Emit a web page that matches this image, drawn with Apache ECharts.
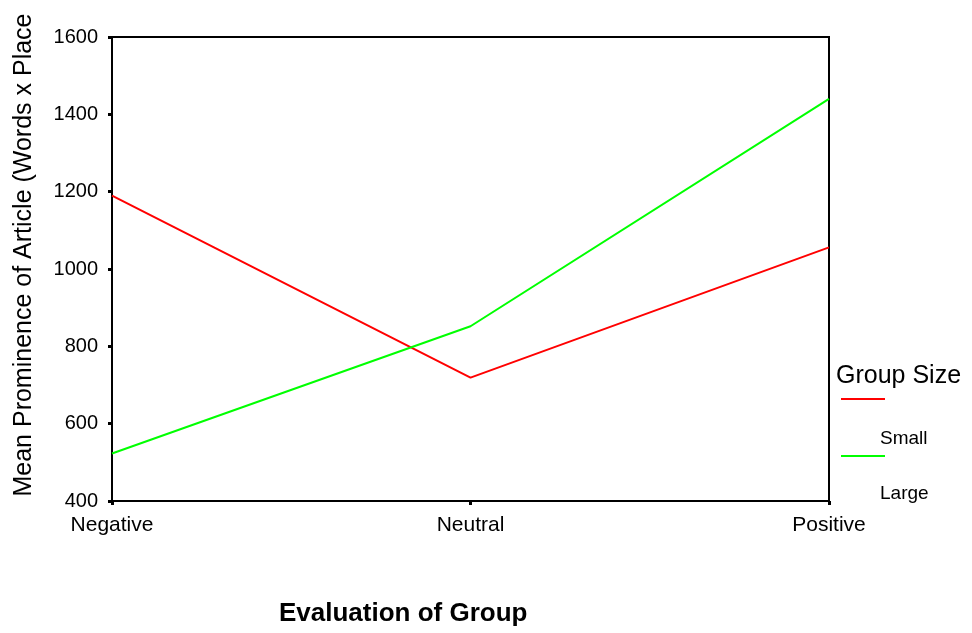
<!DOCTYPE html>
<html><head><meta charset="utf-8">
<script src="https://cdn.jsdelivr.net/npm/echarts@6/dist/echarts.min.js"></script>
<style>html,body{margin:0;padding:0;background:#fff}#c{width:972px;height:633px}</style>
</head><body><div id="c"></div>
<script>
const categories = ['Negative', 'Neutral', 'Positive'];
const small = [1190, 719, 1056];
const large = [523, 852, 1440];
const yTicks = [400, 600, 800, 1000, 1200, 1400, 1600];
const seriesNames = ['Small', 'Large'];

const chart = echarts.init(document.getElementById('c'));
const font = 'Liberation Sans, Arial, sans-serif';
chart.setOption({
  animation: false,
  backgroundColor: '#fff',
  title: {
    text: 'Evaluation of Group', left: 274, top: 596,
    textStyle: {fontFamily: font, fontSize: 26, fontWeight: 'bold', color: '#000'}
  },
  grid: {left: 112, right: 143, top: 37, bottom: 132, show: true, borderColor: '#000', borderWidth: 2, backgroundColor: 'transparent'},
  xAxis: {
    type: 'category', data: categories, boundaryGap: false,
    axisLine: {lineStyle: {color: '#000', width: 2}},
    axisTick: {show: true, length: 4, lineStyle: {color: '#000', width: 3}},
    axisLabel: {fontFamily: font, fontSize: 21, color: '#000', margin: 14}
  },
  yAxis: {
    type: 'value', min: yTicks[0], max: yTicks[yTicks.length - 1], interval: 200,
    splitLine: {show: false},
    axisLine: {show: true, lineStyle: {color: '#000', width: 2}},
    axisTick: {show: true, length: 4, lineStyle: {color: '#000', width: 3}},
    axisLabel: {fontFamily: font, fontSize: 20, color: '#000', margin: 14, formatter: v => String(v)}
  },
  series: [
    {name: seriesNames[0], type: 'line', data: small, symbol: 'none', lineStyle: {color: '#ff0000', width: 2}},
    {name: seriesNames[1], type: 'line', data: large, symbol: 'none', lineStyle: {color: '#00ff00', width: 2}}
  ],
  graphic: [
    {type: 'text', x: 24, y: 255, rotation: Math.PI / 2,
     style: {text: 'Mean Prominence of Article (Words x Place', font: '25px ' + font, fill: '#000', textAlign: 'center', textVerticalAlign: 'middle'}},
    {type: 'text', left: 836, top: 364, style: {text: 'Group Size', font: '25px ' + font, fill: '#000'}},
    {type: 'line', shape: {x1: 841, y1: 399, x2: 885, y2: 399}, style: {stroke: '#ff0000', lineWidth: 2}},
    {type: 'text', left: 880, top: 429, style: {text: seriesNames[0], font: '19px ' + font, fill: '#000'}},
    {type: 'line', shape: {x1: 841, y1: 456, x2: 885, y2: 456}, style: {stroke: '#00ff00', lineWidth: 2}},
    {type: 'text', left: 880, top: 484, style: {text: seriesNames[1], font: '19px ' + font, fill: '#000'}}
  ]
});
</script></body></html>
